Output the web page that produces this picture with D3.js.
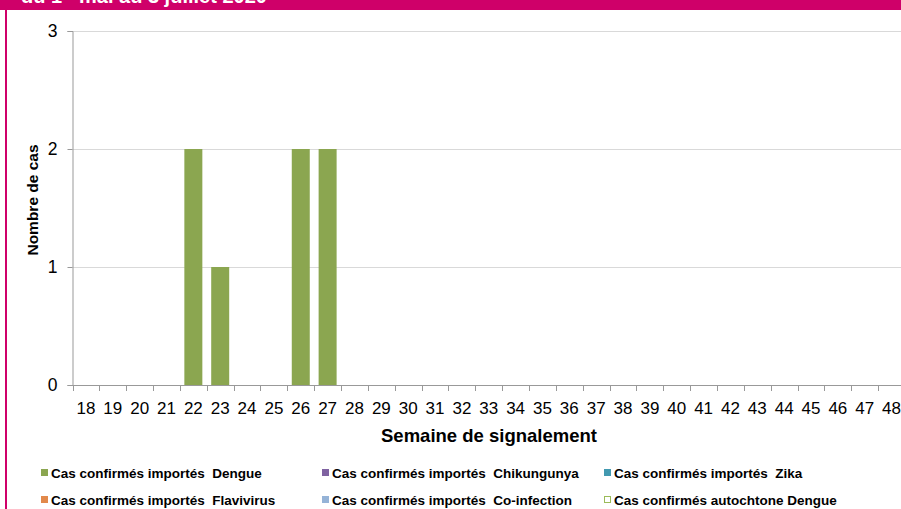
<!DOCTYPE html>
<html>
<head>
<meta charset="utf-8">
<script src="https://cdn.jsdelivr.net/npm/d3@7"></script>
<style>
  body { margin: 0; background: #fff; }
  svg { display: block; font-family: "Liberation Sans", Arial, sans-serif; }
</style>
</head>
<body>
<svg id="chart" width="901" height="509"></svg>
<script>
// weeks of reporting (semaine de signalement)
const weeks = d3.range(18, 49).map(String);

const dengue      = [0,0,0,0,2,1,0,0,2,2,0,0,0,0,0,0,0,0,0,0,0,0,0,0,0,0,0,0,0,0,0];
const chikungunya = weeks.map(() => 0);
const zika        = weeks.map(() => 0);
const flavivirus  = weeks.map(() => 0);
const coinfection = weeks.map(() => 0);
const autochtone  = weeks.map(() => 0);

const seriesNames = [
  "Cas confirmés importés  Dengue",
  "Cas confirmés importés  Chikungunya",
  "Cas confirmés importés  Zika",
  "Cas confirmés importés  Flavivirus",
  "Cas confirmés importés  Co-infection",
  "Cas confirmés autochtone Dengue"
];
const seriesValues = [dengue, chikungunya, zika, flavivirus, coinfection, autochtone];
const seriesColors = ["#8BA650", "#7F62A1", "#4299B0", "#E2894B", "#95B3D7", "#FFFFFF"];
const seriesStroke = [null, null, null, null, null, "#9BBB59"];
const yTicks = [0, 1, 2, 3];

const svg = d3.select("#chart");
const plot = { left: 72.5, right: 905, top: 31, bottom: 385 };

// title band + left border
svg.append("rect").attr("x", 0).attr("y", 0).attr("width", 901).attr("height", 10).attr("fill", "#CF0069");
svg.append("rect").attr("x", 5).attr("y", 0).attr("width", 2).attr("height", 509).attr("fill", "#CF0069");
const title = svg.append("text")
  .attr("x", 21).attr("y", 3)
  .attr("fill", "#fff").style("font-weight", "bold").style("font-size", "20px");
title.append("tspan").text("du 1");
title.append("tspan").attr("dy", -7).style("font-size", "12px").text("er");
title.append("tspan").attr("dy", 7).text(" mai au 3 juillet 2020");

const x = d3.scaleBand()
  .domain(weeks)
  .range([plot.left, plot.right])
  .paddingInner(0.33)
  .paddingOuter(0.165);

const y = d3.scaleLinear()
  .domain([0, 3])
  .range([plot.bottom, plot.top]);

// gridlines
svg.append("g")
  .selectAll("line")
  .data(yTicks.filter(d => d > 0))
  .join("line")
  .attr("x1", plot.left).attr("x2", 901)
  .attr("y1", d => Math.round(y(d)) + 0.5).attr("y2", d => Math.round(y(d)) + 0.5)
  .attr("stroke", "#d9d9d9");

// stacked bars
const table = weeks.map((w, i) => {
  const row = { week: w };
  seriesNames.forEach((n, k) => row[n] = seriesValues[k][i]);
  return row;
});
const stacked = d3.stack().keys(seriesNames)(table);

stacked.forEach((layer, k) => {
  svg.append("g")
    .selectAll("rect")
    .data(layer.filter(d => d[1] - d[0] > 0))
    .join("rect")
    .attr("x", d => x(d.data.week))
    .attr("y", d => y(d[1]))
    .attr("width", x.bandwidth())
    .attr("height", d => y(d[0]) - y(d[1]))
    .attr("fill", seriesColors[k])
    .attr("stroke", seriesStroke[k]);
});

// y axis
const yAxis = svg.append("g")
  .attr("transform", `translate(${plot.left},0)`)
  .call(d3.axisLeft(y).tickValues(yTicks).tickFormat(d3.format("d")).tickSize(5).tickPadding(10));
yAxis.select(".domain").attr("stroke", "#999");
yAxis.selectAll(".tick line").attr("stroke", "#999");
yAxis.selectAll("text").style("font-size", "17.5px").attr("fill", "#000")
  .style("font-family", "'Liberation Sans', Arial, sans-serif");

// x axis: labels at band centres, ticks at band boundaries
const xAxis = svg.append("g")
  .attr("transform", `translate(0,${plot.bottom})`)
  .call(d3.axisBottom(x).tickSize(0).tickPadding(17));
xAxis.select(".domain").attr("stroke", "#999").attr("d", `M${plot.left},0.5H${plot.right}`);
xAxis.selectAll("text").style("font-size", "17px").attr("fill", "#000")
  .style("font-family", "'Liberation Sans', Arial, sans-serif");
xAxis.selectAll(".boundary")
  .data(d3.range(weeks.length + 1))
  .join("line")
  .attr("class", "boundary")
  .attr("x1", i => Math.round(plot.left + i * x.step()) + 0.5)
  .attr("x2", i => Math.round(plot.left + i * x.step()) + 0.5)
  .attr("y1", 0).attr("y2", 6)
  .attr("stroke", "#999");

// axis titles
svg.append("text")
  .attr("x", 489).attr("y", 442)
  .attr("text-anchor", "middle")
  .style("font-weight", "bold").style("font-size", "18.5px")
  .text("Semaine de signalement");

svg.append("text")
  .attr("transform", "translate(38,200) rotate(-90)")
  .attr("text-anchor", "middle")
  .style("font-weight", "bold").style("font-size", "15.5px")
  .text("Nombre de cas");

// legend
const legendPos = [[41, 469], [322, 469], [604, 469], [41, 496], [322, 496], [604, 496]];
const legend = svg.append("g")
  .selectAll("g")
  .data(seriesNames)
  .join("g")
  .attr("transform", (d, i) => `translate(${legendPos[i][0]},${legendPos[i][1]})`);
legend.append("rect")
  .attr("x", (d, i) => seriesStroke[i] ? 0.5 : 0)
  .attr("y", (d, i) => seriesStroke[i] ? 0.5 : 0)
  .attr("width", (d, i) => seriesStroke[i] ? 6 : 7)
  .attr("height", (d, i) => seriesStroke[i] ? 6 : 7)
  .attr("fill", (d, i) => seriesColors[i])
  .attr("stroke", (d, i) => seriesStroke[i]);
legend.append("text")
  .attr("x", 10).attr("y", 8.5)
  .style("font-weight", "bold").style("font-size", "13.5px")
  .style("white-space", "pre")
  .attr("xml:space", "preserve")
  .text(d => d);
</script>
</body>
</html>
